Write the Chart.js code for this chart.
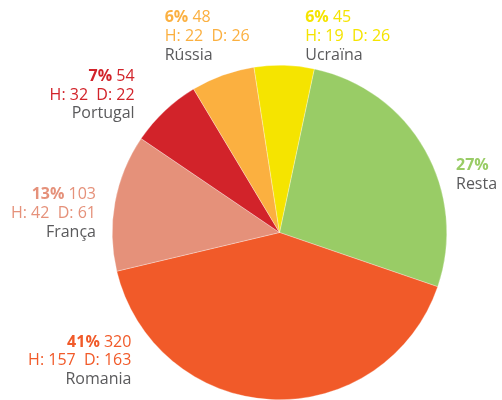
<!DOCTYPE html>
<html>
<head>
<meta charset="utf-8">
<script src="https://cdn.jsdelivr.net/npm/chart.js@4"></script>
<style>
  body { margin: 0; background: #fff; overflow: hidden; }
</style>
</head>
<body>
<canvas id="myChart" width="502" height="400"></canvas>
<script>
// slices, clockwise from just right of the top
var countries = ['Resta', 'Romania', 'França', 'Portugal', 'Rússia', 'Ucraïna'];
var totals = [210, 320, 103, 54, 48, 45];
var homes = [null, 157, 42, 32, 22, 19];
var dones = [null, 163, 61, 22, 26, 26];
var colors = ['#99cc66', '#f15a29', '#e5917a', '#d2232a', '#fbb040', '#f5e400'];

// where each label sits relative to the middle of its arc's outer edge
var labelSpots = [
  { dx: 31, dy: 20, align: 'left' },
  { dx: -140, dy: -53, align: 'right' },
  { dx: -19, dy: -3, align: 'right' },
  { dx: -30, dy: -30, align: 'right' },
  { dx: -58, dy: -53, align: 'left' },
  { dx: 21, dy: -43, align: 'left' }
];

var FONT = '"Open Sans", sans-serif';
var sum = totals.reduce(function (a, b) { return a + b; }, 0);

var pieLabels = {
  id: 'pieLabels',
  afterDatasetsDraw: function (chart) {
    var ctx = chart.ctx;
    var meta = chart.getDatasetMeta(0);
    meta.data.forEach(function (arc, i) {
      var p = arc.getProps(['x', 'y', 'startAngle', 'endAngle', 'outerRadius'], true);
      var mid = (p.startAngle + p.endAngle) / 2;
      var spot = labelSpots[i];
      var ax = p.x + Math.cos(mid) * p.outerRadius + spot.dx;
      var ay = p.y + Math.sin(mid) * p.outerRadius + spot.dy;
      var pct = Math.round(totals[i] / sum * 100) + '%';
      var rest = homes[i] != null ? ' ' + totals[i] : '';
      var lh = 18.7;

      ctx.save();
      ctx.textBaseline = 'alphabetic';
      ctx.textAlign = 'left';
      ctx.font = 'bold 16px ' + FONT;
      var w1 = ctx.measureText(pct).width;
      ctx.font = '16px ' + FONT;
      var w2 = ctx.measureText(rest).width;
      var x0 = spot.align === 'right' ? ax - w1 - w2 : ax;
      ctx.fillStyle = colors[i];
      ctx.font = 'bold 16px ' + FONT;
      ctx.fillText(pct, x0, ay);
      ctx.font = '16px ' + FONT;
      ctx.fillText(rest, x0 + w1, ay);

      ctx.textAlign = spot.align;
      var line = 1;
      if (homes[i] != null) {
        ctx.fillText('H: ' + homes[i] + '  D: ' + dones[i], ax, ay + lh);
        line = 2;
      }
      ctx.fillStyle = '#5a5a5c';
      ctx.fillText(countries[i], ax, ay + lh * line);
      ctx.restore();
    });
  }
};

var ctx = document.getElementById('myChart');
var myChart = new Chart(ctx, {
  type: 'pie',
  data: {
    labels: countries,
    datasets: [{
      data: totals,
      backgroundColor: colors,
      borderColor: 'rgba(255,255,255,0.6)',
      borderWidth: 0.5
    }]
  },
  options: {
    responsive: false,
    animation: false,
    rotation: 12,
    layout: {
      padding: { left: 111, right: 54, top: 65, bottom: -2 }
    },
    plugins: {
      legend: { display: false },
      tooltip: { enabled: false }
    }
  },
  plugins: [pieLabels]
});
</script>
</body>
</html>
